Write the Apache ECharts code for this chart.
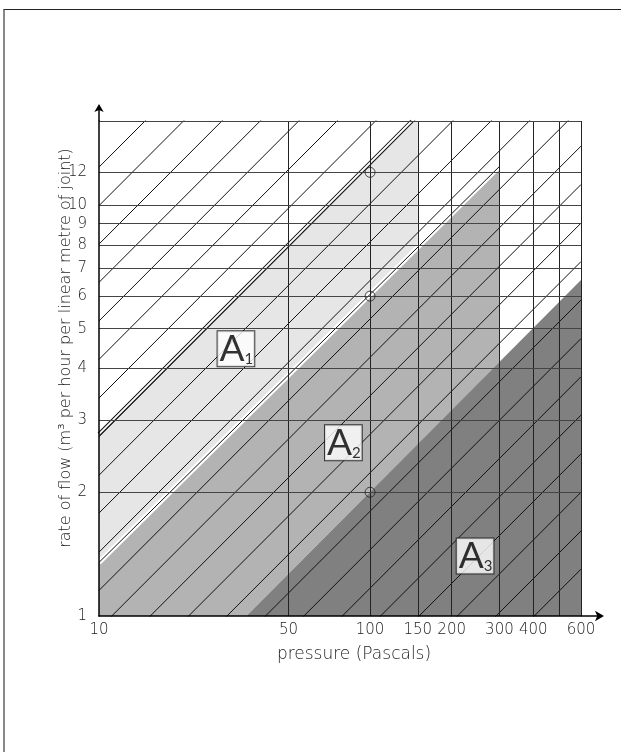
<!DOCTYPE html>
<html>
<head>
<meta charset="utf-8">
<script src="https://cdn.jsdelivr.net/npm/echarts@6/dist/echarts.min.js"></script>
<style>
  html, body { margin: 0; padding: 0; background: #fff; overflow: hidden; }
  #frame { position: absolute; left: 3px; top: 9px; width: 640px; height: 760px; border-top: 1px solid #222; border-left: 2px solid #888; }
  #chart { position: absolute; left: 0; top: 0; width: 621px; height: 752px; }
</style>
</head>
<body>
<div id="frame"></div>
<div id="chart"></div>
<script>
const FONT = '"DejaVu Sans", Lato, sans-serif'

// axes
const xTicks = [10, 50, 100, 150, 200, 300, 400, 600]
const yTicks = [1, 2, 3, 4, 5, 6, 7, 8, 9, 10, 12]
const xGrid = [50, 100, 150, 200, 300, 400, 500, 600]
const yGrid = [2, 3, 4, 5, 6, 7, 8, 9, 10, 12, 16]

// shaded zones, corners as [pressure, flow]
const zoneA1 = [[10, 1.35], [10, 2.77], [142.6, 16], [150, 16], [150, 7.9]]
const zoneA2 = [[10, 1], [10, 1.35], [300, 12.4], [300, 4.15], [35, 1]]
const zoneA3 = [[35, 1], [600, 6.57], [600, 1]]

// zone boundaries
const edgeA1 = [[10, 2.77], [142.6, 16]]
const edgeA2 = [[10, 1.35], [300, 12.4]]

// diagonal hatching: flow where each line meets p = 10 and p = 600
const hatchLeft = [12.36, 9.96, 8.03, 6.48, 5.22, 4.21, 3.39, 2.73, 2.2, 1.78, 1.43, 1.154,
  0.931, 0.75, 0.605, 0.488, 0.393, 0.317, 0.255, 0.206, 0.166, 0.134, 0.108, 0.087]
const hatchRight = [185, 149, 120, 96.7, 78, 62.9, 50.7, 40.8, 32.9, 26.5, 21.4, 17.24,
  13.9, 11.21, 9.03, 7.28, 5.87, 4.73, 3.82, 3.08, 2.48, 2.0, 1.61, 1.3]

// test points and zone labels
const markers = [[100, 12], [100, 6], [100, 2]]
const zoneNames = ['1', '2', '3']
const zoneLabelAt = [[32, 4.47], [79.7, 2.64], [244, 1.4]]

function zone (points, color) {
  return {
    type: 'custom',
    silent: true,
    z: 1,
    data: [points[0]],
    renderItem: (params, api) => ({
      type: 'polygon',
      shape: { points: points.map(p => api.coord(p)) },
      style: { fill: color }
    })
  }
}

function edge (points, color, width, z) {
  return {
    type: 'line',
    silent: true,
    symbol: 'none',
    z: z,
    lineStyle: { color: color, width: width },
    data: points
  }
}

const series = [
  zone(zoneA1, '#e6e6e6'),
  edge(edgeA2, '#fff', 5, 1),
  zone(zoneA2, '#b3b3b3'),
  zone(zoneA3, '#808080')
]

hatchLeft.forEach((c, i) => {
  series.push(edge([[10, c], [600, hatchRight[i]]], '#111', 1, 2))
})

series.push({
  type: 'line',
  silent: true,
  symbol: 'none',
  z: 3,
  data: [[10, 1]],
  markLine: {
    silent: true,
    symbol: 'none',
    animation: false,
    label: { show: false },
    lineStyle: { color: '#222', width: 1, type: 'solid' },
    data: xGrid.map(v => ({ xAxis: v }))
      .concat(yGrid.map(v => ({ yAxis: v, lineStyle: { color: '#444', width: 1, type: 'solid' } })))
  }
})

series.push(edge(edgeA1, '#111', 3.8, 4))
series.push(edge(edgeA1, '#fff', 1.8, 4))
series.push(edge(edgeA2, '#111', 1, 4))

series.push({
  type: 'scatter',
  silent: true,
  z: 5,
  symbol: 'circle',
  symbolSize: 10,
  itemStyle: { color: 'rgba(0,0,0,0)', borderColor: '#222', borderWidth: 1 },
  data: markers
})

series.push({
  type: 'scatter',
  silent: true,
  z: 6,
  symbolSize: 1,
  itemStyle: { color: 'rgba(0,0,0,0)' },
  data: zoneLabelAt.map((p, i) => ({ name: zoneNames[i], value: p })),
  label: {
    show: true,
    position: 'inside',
    formatter: p => '{a|A}{s|' + p.name + '}',
    backgroundColor: '#fff',
    borderColor: '#111',
    borderWidth: 1,
    padding: [1, 1, 0, 2],
    rich: {
      a: { fontFamily: 'Lato, sans-serif', fontSize: 37, lineHeight: 34, color: '#000' },
      s: { fontFamily: 'Lato, sans-serif', fontSize: 15, lineHeight: 15, color: '#000', verticalAlign: 'bottom' }
    }
  }
})

const axisText = { fontFamily: FONT, fontWeight: 200, fontSize: 15, color: '#222' }

let chart = echarts.init(document.getElementById('chart'))
chart.setOption({
  animation: false,
  grid: { left: 99, top: 121, width: 482, height: 495, outerBoundsMode: 'none' },
  xAxis: {
    type: 'log',
    logBase: 10,
    min: 10,
    max: 600,
    z: 10,
    axisLine: {
      lineStyle: { color: '#000', width: 1.5 },
      symbol: ['none', 'arrow'],
      symbolSize: [8, 9],
      symbolOffset: [0, 23]
    },
    axisTick: { show: false },
    splitLine: { show: false },
    minorSplitLine: { show: false },
    axisLabel: Object.assign({ customValues: xTicks, margin: 7 }, axisText)
  },
  yAxis: {
    type: 'log',
    logBase: 10,
    min: 1,
    max: 16,
    z: 10,
    axisLine: {
      lineStyle: { color: '#000', width: 1.5 },
      symbol: ['none', 'arrow'],
      symbolSize: [7, 8],
      symbolOffset: [0, 17]
    },
    axisTick: { show: false },
    splitLine: { show: false },
    minorSplitLine: { show: false },
    axisLabel: Object.assign({ customValues: yTicks, margin: 12 }, axisText)
  },
  series: series
})

// stretch both axis lines out to their arrow heads, and place the axis titles
const origin = chart.convertToPixel({ gridIndex: 0 }, [10, 1])
const corner = chart.convertToPixel({ gridIndex: 0 }, [600, 16])
chart.setOption({
  graphic: [
    {
      type: 'line', z: 100, silent: true,
      shape: { x1: corner[0], y1: origin[1], x2: corner[0] + 19, y2: origin[1] },
      style: { stroke: '#000', lineWidth: 1.5 }
    },
    {
      type: 'line', z: 100, silent: true,
      shape: { x1: origin[0], y1: corner[1], x2: origin[0], y2: corner[1] - 13 },
      style: { stroke: '#000', lineWidth: 1.5 }
    },
    {
      type: 'text', z: 100, silent: true,
      x: 354, y: 655,
      style: { text: 'pressure (Pascals)', font: '200 17px ' + FONT, fill: '#222', textAlign: 'center', textVerticalAlign: 'middle' }
    },
    {
      type: 'text', z: 100, silent: true,
      x: 66, y: 348, rotation: Math.PI / 2,
      style: { text: 'rate of flow (m³ per hour per linear metre of joint)', font: '200 16px ' + FONT, fill: '#222', textAlign: 'center', textVerticalAlign: 'middle' }
    }
  ]
})

window.addEventListener('resize', () => {
  chart.resize()
})
</script>
</body>
</html>
